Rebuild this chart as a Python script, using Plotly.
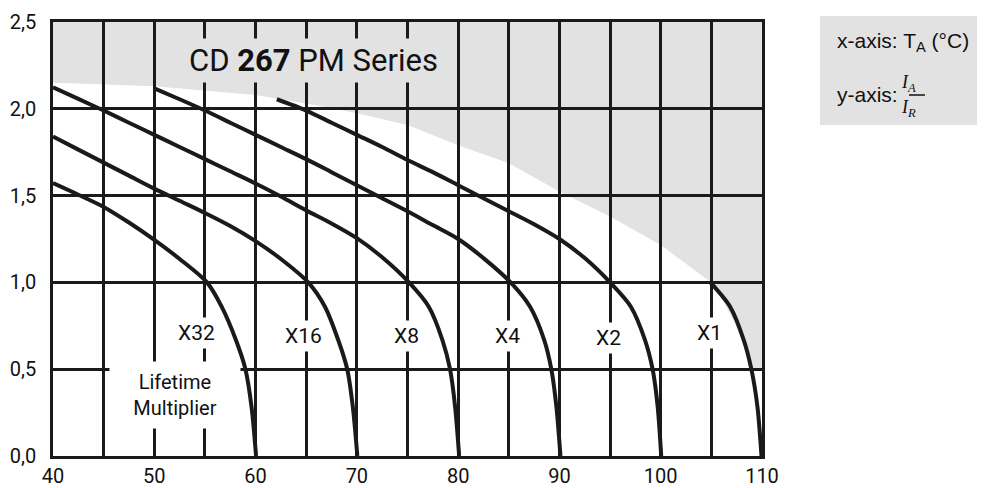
import plotly.graph_objects as go

# ---- data ----
x_ticks = [40, 50, 60, 70, 80, 90, 100, 110]
y_ticks = [0.0, 0.5, 1.0, 1.5, 2.0, 2.5]
y_tick_text = ["0,0", "0,5", "1,0", "1,5", "2,0", "2,5"]

series_names = ["X32", "X16", "X8", "X4", "X2", "X1"]

x32_t = [40, 42.5, 45, 47.5, 50, 52.5, 55.2, 56.65, 58.06, 59.0, 59.6, 60.05]
x32_i = [1.572, 1.505, 1.435, 1.345, 1.245, 1.135, 1.0, 0.86, 0.668, 0.5, 0.284, 0.0]

x16_t = [40, 42.5, 45, 47.5, 50, 52.5, 55, 57.5, 60, 62.5, 65.2, 66.85, 68.16, 69.05, 69.6, 70.05]
x16_i = [1.84, 1.765, 1.69, 1.615, 1.54, 1.47, 1.40, 1.325, 1.238, 1.135, 1.0, 0.86, 0.668, 0.5, 0.284, 0.0]

x8_t = [40, 42.5, 45, 47.5, 50, 52.5, 55, 57.5, 60, 62.5, 65, 67.5, 70, 72.5, 75.15, 77.1, 78.45, 79.2, 79.7, 80.1]
x8_i = [2.124, 2.057, 1.99, 1.92, 1.85, 1.78, 1.71, 1.64, 1.57, 1.495, 1.415, 1.34, 1.255, 1.145, 1.0, 0.86, 0.668, 0.5, 0.284, 0.0]

x4_t = [50, 52.5, 55, 57.5, 60, 62.5, 65, 67.5, 70, 72.5, 75, 77.5, 80, 82.5, 85.18, 87.1, 88.5, 89.2, 89.7, 90.1]
x4_i = [2.118, 2.055, 1.99, 1.92, 1.85, 1.78, 1.71, 1.635, 1.56, 1.485, 1.41, 1.33, 1.25, 1.14, 1.0, 0.86, 0.668, 0.5, 0.284, 0.0]

x2_t = [62.1, 65, 67.5, 70, 72.5, 75, 77.5, 80, 82.5, 85, 87.5, 90, 92.5, 95.0, 97.05, 98.45, 99.2, 99.7, 100.05]
x2_i = [2.055, 1.99, 1.92, 1.85, 1.78, 1.705, 1.635, 1.56, 1.485, 1.41, 1.335, 1.25, 1.14, 1.0, 0.86, 0.668, 0.5, 0.284, 0.0]

x1_t = [104.9, 106.85, 108.2, 108.95, 109.55, 109.95]
x1_i = [1.0, 0.86, 0.668, 0.5, 0.284, 0.0]

# boundary of the grey (outside rating) zone
zone_t = [40, 50, 60, 65, 70, 75, 80, 85, 90, 95, 100, 105, 106.3, 107.3, 108.3, 109.0, 110, 110, 40]
zone_i = [2.15, 2.13, 2.08, 2.03, 1.975, 1.907, 1.79, 1.686, 1.523, 1.379, 1.215, 1.0, 0.88, 0.764, 0.62, 0.5, 0.5, 2.5, 2.5]

# ---- styling ----
NARROW = "Roboto, Liberation Sans, sans-serif"
SANS = "Liberation Sans, Arial, sans-serif"
SERIF = "Liberation Serif, DejaVu Serif, serif"
GREY = "#e2e2e2"
INK = "#1a1a1a"

fig = go.Figure()

curves = [(x32_t, x32_i), (x16_t, x16_i), (x8_t, x8_i), (x4_t, x4_i), (x2_t, x2_i), (x1_t, x1_i)]
for name, (t, i) in zip(series_names, curves):
    fig.add_trace(go.Scatter(x=t, y=i, mode="lines", name=name,
                             line=dict(color=INK, width=4, shape="spline", smoothing=0.8),
                             hoverinfo="skip", showlegend=False))

# grey zone below grid lines
path = "M " + " L ".join(f"{a},{b}" for a, b in zip(zone_t, zone_i)) + " Z"
fig.add_shape(type="path", path=path, xref="x", yref="y", fillcolor=GREY,
              line=dict(width=0), layer="below")

# title inside plot
fig.add_annotation(x=65.7, y=2.28, xref="x", yref="y", showarrow=False,
                   text="CD <b>267</b> PM Series",
                   font=dict(family=NARROW, size=31, color="#111"),
                   bgcolor=GREY, borderpad=3)

# curve labels
label_pos = [(54.2, 0.71), (64.7, 0.69), (74.9, 0.69), (84.85, 0.69), (94.8, 0.68), (104.86, 0.71)]
for name, (lx, ly) in zip(series_names, label_pos):
    fig.add_annotation(x=lx, y=ly, xref="x", yref="y", showarrow=False, text=name,
                       font=dict(family=NARROW, size=21, color="#111"),
                       bgcolor="white", borderpad=3)

fig.add_annotation(x=52.05, y=0.35, xref="x", yref="y", showarrow=False,
                   text="Lifetime<br>Multiplier",
                   font=dict(family=NARROW, size=20, color="#111"),
                   bgcolor="white", width=126, height=62, borderpad=2)

# axis description box on the right (paper units = plot area)
fig.add_shape(type="rect", xref="paper", yref="paper", x0=1.0818, x1=1.3145, y0=0.7627, y1=1.0138,
              fillcolor=GREY, line=dict(width=0), layer="above")
fig.add_annotation(x=1.1045, y=0.954, xref="paper", yref="paper", xanchor="left", yanchor="middle",
                   showarrow=False, text="x-axis: T<sub>A</sub> (°C)", borderpad=0,
                   font=dict(family=SANS, size=21, color="#111"))
fig.add_annotation(x=1.1045, y=0.8318, xref="paper", yref="paper", xanchor="left", yanchor="middle",
                   showarrow=False, text="y-axis:", borderpad=0,
                   font=dict(family=SANS, size=21, color="#111"))
fig.add_annotation(x=1.2186, y=0.8318, xref="paper", yref="paper", yanchor="bottom", yshift=-1,
                   showarrow=False, text="<i>I<sub>A</sub></i>", borderpad=0,
                   font=dict(family=SERIF, size=18, color="#111"))
fig.add_annotation(x=1.2186, y=0.8318, xref="paper", yref="paper", yanchor="top", yshift=-1,
                   showarrow=False, text="<i>I<sub>R</sub></i>", borderpad=0,
                   font=dict(family=SERIF, size=18, color="#111"))
fig.add_shape(type="line", xref="paper", yref="paper", x0=1.2073, x1=1.2299, y0=0.8318, y1=0.8318,
              line=dict(color="#111", width=1.5), layer="above")

fig.update_xaxes(range=[40, 110], tickvals=x_ticks, ticktext=[str(v) for v in x_ticks],
                 showgrid=True, gridcolor=INK, gridwidth=2.5,
                 minor=dict(dtick=5, tick0=40, showgrid=True, gridcolor=INK, gridwidth=2.5),
                 showline=True, linecolor=INK, linewidth=2.5, mirror=True,
                 ticks="", zeroline=False, ticklabelstandoff=0, automargin=False,
                 tickfont=dict(family=NARROW, size=20, color="#111"), fixedrange=True)
fig.update_yaxes(range=[0, 2.5], tickvals=y_ticks, ticktext=y_tick_text,
                 showgrid=True, gridcolor=INK, gridwidth=2.5,
                 showline=True, linecolor=INK, linewidth=2.5, mirror=True,
                 ticks="", zeroline=False, ticklabelstandoff=10, automargin=False,
                 tickfont=dict(family=NARROW, size=20, color="#111"), fixedrange=True)

# page body adds an 8px margin, so the figure is sized to the visible area
fig.update_layout(width=977, height=480,
                  margin=dict(l=45, r=223, t=14, b=32, autoexpand=False),
                  paper_bgcolor="white", plot_bgcolor="white",
                  showlegend=False)

fig.write_html("out.html")
